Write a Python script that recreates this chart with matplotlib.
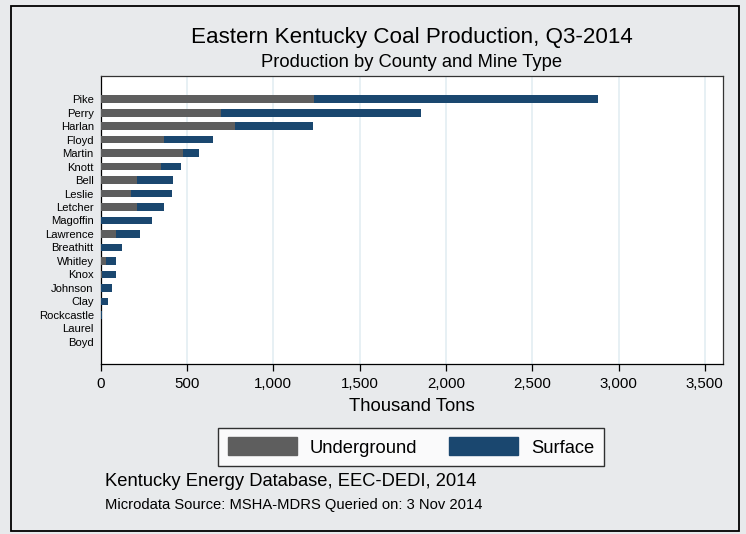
import matplotlib
matplotlib.use("Agg")
import matplotlib.pyplot as plt
from matplotlib.patches import Rectangle, Patch
from matplotlib.ticker import FuncFormatter

counties = ["Pike", "Perry", "Harlan", "Floyd", "Martin", "Knott", "Bell", "Leslie",
            "Letcher", "Magoffin", "Lawrence", "Breathitt", "Whitley", "Knox",
            "Johnson", "Clay", "Rockcastle", "Laurel", "Boyd"]
underground = [1234, 697, 778, 365, 477, 348, 210, 176, 210, 0, 87, 0, 31, 10, 0, 0, 0, 0, 0]
total = [2882, 1857, 1230, 651, 572, 465, 419, 415, 367, 299, 228, 126, 91, 89, 66, 44, 10, 0, 0]
surface = [t - u for t, u in zip(total, underground)]
xticks = [0, 500, 1000, 1500, 2000, 2500, 3000, 3500]

GRAY = "#5e5e5e"
NAVY = "#1a476f"
BG = "#e8eaec"
FONT = ["Liberation Sans", "DejaVu Sans"]
plt.rcParams["font.family"] = FONT

W, H = 746, 534
fig = plt.figure(figsize=(W / 100, H / 100), dpi=100)
fig.patch.set_facecolor(BG)

def fx(px):
    return px / W

def fy(py):
    return 1 - py / H

# outer frame
fig.add_artist(Rectangle((fx(11), fy(531)), fx(739) - fx(11), fy(6) - fy(531),
                         transform=fig.transFigure, fill=False, edgecolor="black",
                         linewidth=1.3, zorder=10))

ax = fig.add_axes([fx(100.7), fy(364.3), fx(723.3) - fx(100.7), fy(75.7) - fy(364.3)])
ax.set_facecolor("white")
ypos = list(range(len(counties)))
ax.barh(ypos, underground, height=0.56, color=GRAY, zorder=3)
ax.barh(ypos, surface, left=underground, height=0.56, color=NAVY, zorder=3)
ax.set_ylim(len(counties) - 1 + 1.68, -1.75)
ax.set_xlim(0, 3607)
ax.set_yticks(ypos)
ax.set_yticklabels(counties, fontsize=8.1)
ax.tick_params(axis="y", length=0, pad=5)
ax.set_xticks(xticks)
ax.xaxis.set_major_formatter(FuncFormatter(lambda v, p: f"{int(v):,}"))
ax.tick_params(axis="x", length=5, width=0.9, labelsize=10.8, pad=4)
for x in xticks[1:]:
    ax.axvline(x, color="#e3eef2", linewidth=1.2, zorder=1)
for s in ax.spines.values():
    s.set_color("#333333")
    s.set_linewidth(0.9)
ax.spines["left"].set_color("black")
ax.spines["bottom"].set_color("black")
ax.set_xlabel("Thousand Tons", fontsize=13.3, labelpad=5)

fig.text(fx(412), fy(37), "Eastern Kentucky Coal Production, Q3-2014",
         ha="center", va="center", fontsize=16.1)
fig.text(fx(412), fy(62), "Production by County and Mine Type",
         ha="center", va="center", fontsize=13.2)

leg = fig.legend(handles=[Patch(facecolor=GRAY, edgecolor=GRAY, label="Underground"),
                          Patch(facecolor=NAVY, edgecolor=NAVY, label="Surface")],
                 loc="center", bbox_to_anchor=(fx(411), fy(447)), ncol=2,
                 fontsize=13.2, frameon=True, fancybox=False, edgecolor="black",
                 handlelength=3.8, handleheight=1.1, columnspacing=1.7,
                 borderpad=0.5, handletextpad=0.7)
leg.get_frame().set_linewidth(1.0)

fig.text(fx(104.7), fy(482), "Kentucky Energy Database, EEC-DEDI, 2014",
         ha="left", va="center", fontsize=13.2)
fig.text(fx(104.7), fy(505.5), "Microdata Source: MSHA-MDRS Queried on: 3 Nov 2014",
         ha="left", va="center", fontsize=10.6)

fig.savefig("out.png", dpi=100, facecolor=BG)
